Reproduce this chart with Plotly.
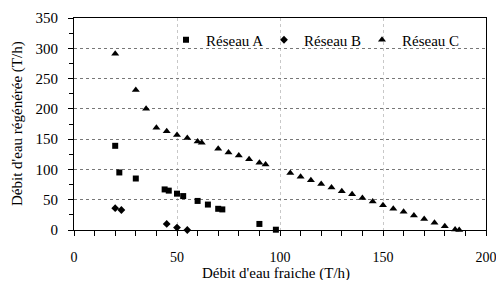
import plotly.graph_objects as go

# Réseau A (squares)
a_x = [20, 22, 30, 44, 46, 50, 53, 60, 65, 70, 72, 90, 98]
a_y = [139, 95, 85, 67, 65, 60, 56, 48, 42, 35, 34, 10, 0.5]
# Réseau B (diamonds)
b_x = [20, 23, 45, 50, 55]
b_y = [36, 33, 10, 4, 0]
# Réseau C (triangles)
c_x = [20, 30, 35, 40, 45, 50, 55, 60, 62, 70, 75, 80, 85, 90, 93,
       105, 110, 115, 120, 125, 130, 135, 140, 145, 150, 155, 160, 165,
       170, 175, 180, 185, 187]
c_y = [291, 231, 200, 169, 163, 157, 152, 146, 144, 134, 128, 123, 117, 111, 108,
       94, 88, 82, 76, 70, 64, 59, 53, 47, 41, 35, 30, 24,
       18, 12, 6, 1, 0]

x_title = "Débit d'eau fraiche (T/h)"
y_title = "Débit d'eau régénérée (T/h)"

series = [
    ("Réseau A", a_x, a_y, "square", 6),
    ("Réseau B", b_x, b_y, "diamond", 6),
    ("Réseau C", c_x, c_y, "triangle-up", 7),
]

fig = go.Figure()
for name, xs, ys, sym, sz in series:
    fig.add_trace(go.Scatter(
        x=xs, y=ys, mode="markers", name=name, cliponaxis=False,
        marker=dict(symbol=sym, size=sz, color="black", line=dict(width=0)),
    ))

font = dict(family="Liberation Serif, Times New Roman, serif", size=15, color="black")
xtick_font = dict(family="Liberation Serif, Times New Roman, serif", size=14, color="black")

# page body has an 8px margin, so the figure is drawn 8px in from the top-left;
# keep the figure short enough that the page never scrolls vertically
OFF = 8
W, H = 504 - OFF, 288 - 2 * OFF
PX0, PX1, PY0, PY1 = 74, 486, 18, 230   # plot area in page pixels
L, R, T, B = PX0 - OFF, (OFF + W) - PX1, PY0 - OFF, (OFF + H) - PY1
pw, ph = W - L - R, H - T - B

fig.update_layout(
    width=W, height=H,
    margin=dict(l=L, r=R, t=T, b=B, autoexpand=False),
    paper_bgcolor="white", plot_bgcolor="white",
    font=font,
    showlegend=True,
    legend=dict(orientation="h", x=(166 - PX0) / pw, xanchor="left",
                y=(PY1 - 40) / ph, yanchor="middle",
                bgcolor="rgba(0,0,0,0)", font=font, itemwidth=30,
                entrywidth=53, entrywidthmode="pixels", tracegroupgap=0),
    xaxis=dict(
        range=[0, 200], dtick=50, tick0=0, automargin=False,
        showline=True, linecolor="black", linewidth=1, mirror=True,
        ticks="outside", ticklen=5, tickcolor="black", ticklabelstandoff=9,
        ticklabeloverflow="allow",
        showgrid=True, gridcolor="#c8c8c8", griddash="dot", gridwidth=1,
        zeroline=False,
        minor=dict(dtick=10, ticks="outside", ticklen=5, tickcolor="black", showgrid=False),
        tickfont=xtick_font,
    ),
    yaxis=dict(
        range=[0, 350], dtick=50, tick0=0, automargin=False,
        showline=True, linecolor="black", linewidth=1, mirror=True,
        ticks="outside", ticklen=5, tickcolor="black", ticklabelstandoff=7,
        ticklabeloverflow="allow",
        showgrid=True, gridcolor="#777777", griddash="dot", gridwidth=1,
        zeroline=False,
        minor=dict(dtick=25, ticks="outside", ticklen=4, tickcolor="black", showgrid=False),
        tickfont=font,
    ),
    annotations=[
        dict(text=x_title, xref="paper", yref="paper",
             x=(276 - PX0) / pw, y=(PY1 - 273) / ph, xanchor="center", yanchor="middle",
             showarrow=False, font=font),
        dict(text=y_title, xref="paper", yref="paper", textangle=-90,
             x=(17 - PX0) / pw, y=0.5, xanchor="center", yanchor="middle",
             showarrow=False, font=font),
    ],
)

fig.write_html("out.html")
